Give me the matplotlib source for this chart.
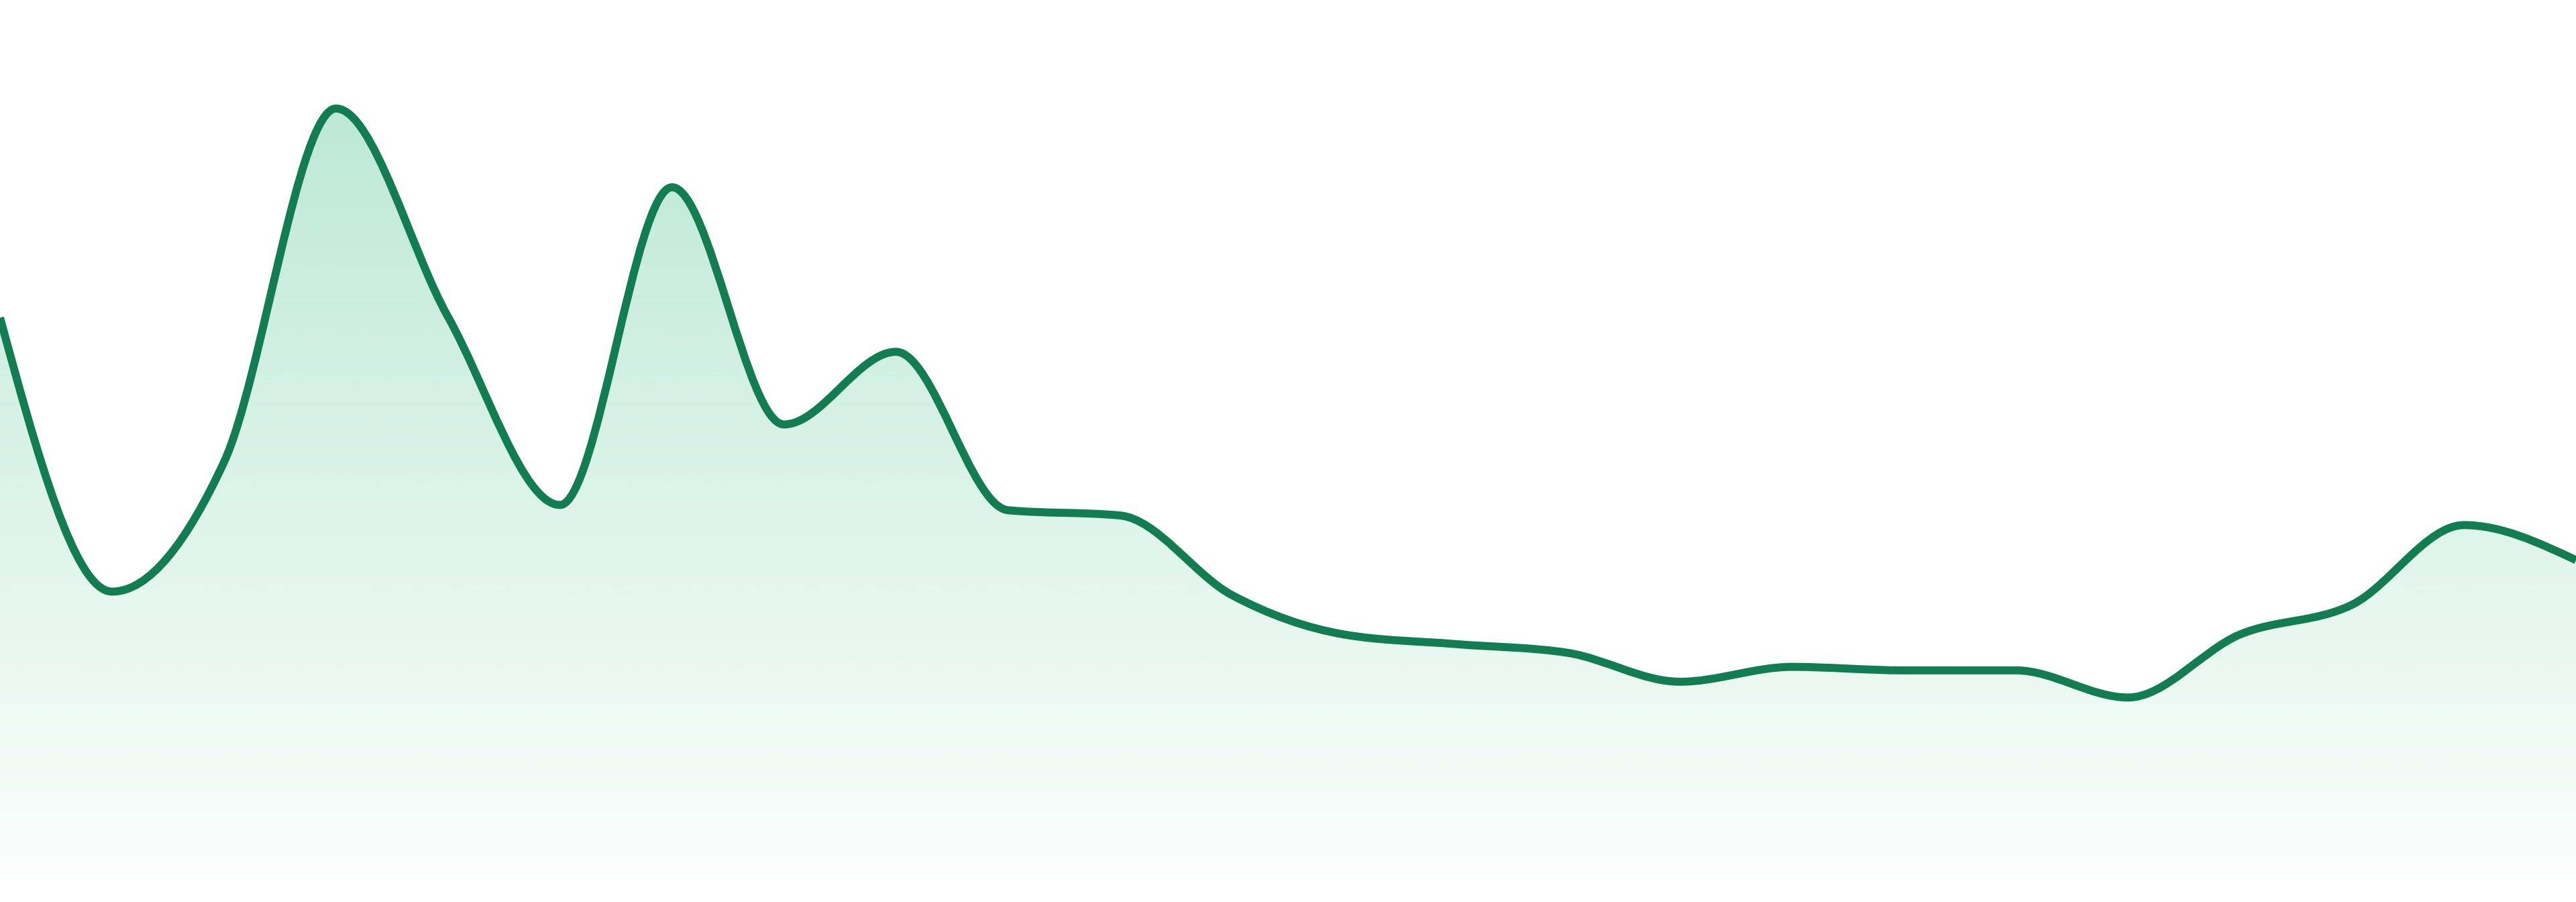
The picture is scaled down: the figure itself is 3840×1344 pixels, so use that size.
import numpy as np
import matplotlib
matplotlib.use("Agg")
import matplotlib.pyplot as plt
from matplotlib.path import Path
from matplotlib.patches import PathPatch
from matplotlib.colors import to_rgb

# values, one per evenly spaced step
steps = list(range(24))
values = [63.7, 32.4, 47.2, 87.6, 63.8, 42.3, 78.6, 51.5, 59.8, 41.7, 41.1, 32.0,
          27.5, 26.4, 25.4, 22.1, 23.8, 23.4, 23.4, 20.3, 27.5, 30.9, 40.0, 36.0]

line_color = "#127d52"
fill_color = "#22b573"


def monotone_path(x, y):
    # d3 curveMonotoneX as cubic bezier segments
    x = np.asarray(x, float)
    y = np.asarray(y, float)
    n = len(x)
    h = np.diff(x)
    s = np.diff(y) / h
    t = np.zeros(n)
    for i in range(1, n - 1):
        h0, h1 = h[i - 1], h[i]
        s0, s1 = s[i - 1], s[i]
        p = (s0 * h1 + s1 * h0) / (h0 + h1)
        t[i] = (np.sign(s0) + np.sign(s1)) * min(abs(s0), abs(s1), 0.5 * abs(p))
    t[0] = (3 * s[0] - t[1]) / 2
    t[-1] = (3 * s[-1] - t[-2]) / 2
    verts = [(x[0], y[0])]
    codes = [Path.MOVETO]
    for i in range(n - 1):
        dx = (x[i + 1] - x[i]) / 3
        verts += [(x[i] + dx, y[i] + dx * t[i]),
                  (x[i + 1] - dx, y[i + 1] - dx * t[i + 1]),
                  (x[i + 1], y[i + 1])]
        codes += [Path.CURVE4] * 3
    return verts, codes


fig = plt.figure(figsize=(19.2, 6.72), dpi=200)
ax = fig.add_axes([0, 40 / 1344, 1, 1 - 40 / 1344])
ax.set_xlim(steps[0], steps[-1])
ax.set_ylim(0, 100)
ax.axis("off")

verts, codes = monotone_path(steps, values)

# gradient fill under the curve
fverts = verts + [(steps[-1], 0), (steps[0], 0), verts[0]]
fcodes = codes + [Path.LINETO, Path.LINETO, Path.CLOSEPOLY]
fill_patch = PathPatch(Path(fverts, fcodes), facecolor="none", edgecolor="none")
ax.add_patch(fill_patch)

top = max(values)
grad = np.zeros((256, 1, 4))
grad[:, 0, :3] = to_rgb(fill_color)
grad[:, 0, 3] = np.linspace(0.02, 0.30, 256)
img = ax.imshow(grad, extent=(steps[0], steps[-1], 0, top), origin="lower",
                aspect="auto", interpolation="bilinear", zorder=1)
img.set_clip_path(fill_patch)

line = PathPatch(Path(verts, codes), facecolor="none", edgecolor=line_color,
                 linewidth=4.3, capstyle="butt", joinstyle="round", zorder=2)
ax.add_patch(line)

fig.savefig("out.png", dpi=200, facecolor="white")
